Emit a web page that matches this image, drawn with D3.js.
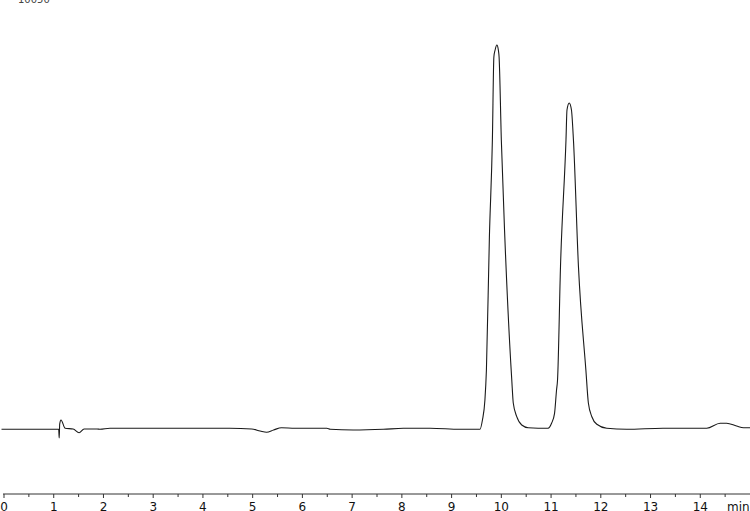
<!DOCTYPE html>
<html>
<head>
<meta charset="utf-8">
<script src="https://cdn.jsdelivr.net/npm/d3@7"></script>
<style>
  body { margin: 0; background: #fff; }
  svg { display: block; }
</style>
</head>
<body>
<div id="chart"></div>
<script>
// retention time (min)
const times = [
  -0.05, 1.10, 1.11, 1.12, 1.146, 1.23, 1.39, 1.51, 1.61, 1.87, 1.93, 2.13, 2.90,
  4.54, 4.98, 5.15, 5.28, 5.42, 5.58, 5.85, 6.49, 6.56, 7.02, 7.63, 8.03, 8.57, 9.17,
  9.57, 9.62, 9.67, 9.70, 9.76, 9.82, 9.85, 9.875, 9.91, 9.94, 9.955, 10.00, 10.07,
  10.21, 10.24, 10.31, 10.41, 10.54, 10.94,
  11.01, 11.07, 11.11, 11.13, 11.19, 11.30, 11.32, 11.365, 11.41, 11.45, 11.55,
  11.70, 11.75, 11.82, 11.92, 12.12, 12.52, 13.25, 14.13, 14.40, 14.53, 14.73, 14.87, 15.0
]
// detector signal, baseline = 0
const signal = [
  0.7, 0.7, -8, 6, 10, 1.7, 1, -2.7, 1, 1, 0.7, 1.7, 1.7,
  1.7, 1, -1, -2.3, 0, 2.3, 1.7, 1.7, 0.7, 0, 0.7, 1.7, 1.7, 0.7,
  0.7, 10, 30, 60, 193, 290, 373, 380, 385, 380, 373, 290, 193,
  50, 27, 13.3, 5, 2.3, 1.7,
  6.7, 16.7, 40, 50, 164, 290, 320, 327, 320, 290, 164,
  60, 27, 13.3, 5.7, 1.7, 0.7, 1.7, 1.7, 6.7, 6.7, 4, 2.3, 2.3
]
const majorTicks = [0, 1, 2, 3, 4, 5, 6, 7, 8, 9, 10, 11, 12, 13, 14]
const minorTicks = [0.5, 1.5, 2.5, 3.5, 4.5, 5.5, 6.5, 7.5, 8.5, 9.5, 10.5, 11.5, 12.5, 13.5, 14.5]
const topLabel = '10050'
const unitLabel = 'min'

const width = 750
const height = 511

const svg = d3.select('#chart')
  .append('svg')
  .attr('width', width)
  .attr('height', height)

const xScale = d3.scaleLinear().domain([0, 15]).range([4, 750])
const yScale = d3.scaleLinear().domain([-64, 430]).range([494, 0])

const data = times.map((t, i) => ({x: t, y: signal[i]}))

// trace
const line = d3.line()
  .x(d => xScale(d.x))
  .y(d => yScale(d.y))
  .curve(d3.curveMonotoneX)

svg.append('path')
  .datum(data)
  .attr('d', line)
  .style('fill', 'none')
  .style('stroke', '#1a1a1a')
  .style('stroke-width', 1.1)

// bottom axis
const axisY = yScale(-64)
svg.append('line')
  .attr('x1', 3).attr('x2', width)
  .attr('y1', axisY).attr('y2', axisY)
  .style('stroke', '#333')
  .style('stroke-width', 1)

svg.selectAll('line.major')
  .data(majorTicks)
  .enter()
  .append('line')
  .attr('class', 'major')
  .attr('x1', d => xScale(d)).attr('x2', d => xScale(d))
  .attr('y1', axisY).attr('y2', axisY + 4)
  .style('stroke', '#333')

svg.selectAll('line.minor')
  .data(minorTicks)
  .enter()
  .append('line')
  .attr('class', 'minor')
  .attr('x1', d => xScale(d)).attr('x2', d => xScale(d))
  .attr('y1', axisY).attr('y2', axisY + 3)
  .style('stroke', '#333')

svg.selectAll('text.tick')
  .data(majorTicks)
  .enter()
  .append('text')
  .attr('class', 'tick')
  .attr('x', d => xScale(d))
  .attr('y', 511)
  .attr('text-anchor', 'middle')
  .style('font-family', 'DejaVu Sans')
  .style('font-size', '12px')
  .style('fill', '#111')
  .text(d => d)

svg.append('text')
  .attr('x', 727)
  .attr('y', 511)
  .style('font-family', 'DejaVu Sans')
  .style('font-size', '12px')
  .style('fill', '#111')
  .text(unitLabel)

// clipped y label at the top
svg.append('text')
  .attr('x', 18)
  .attr('y', 2.5)
  .style('font-family', 'DejaVu Sans')
  .style('font-size', '10px')
  .style('fill', '#444')
  .text(topLabel)
</script>
</body>
</html>
